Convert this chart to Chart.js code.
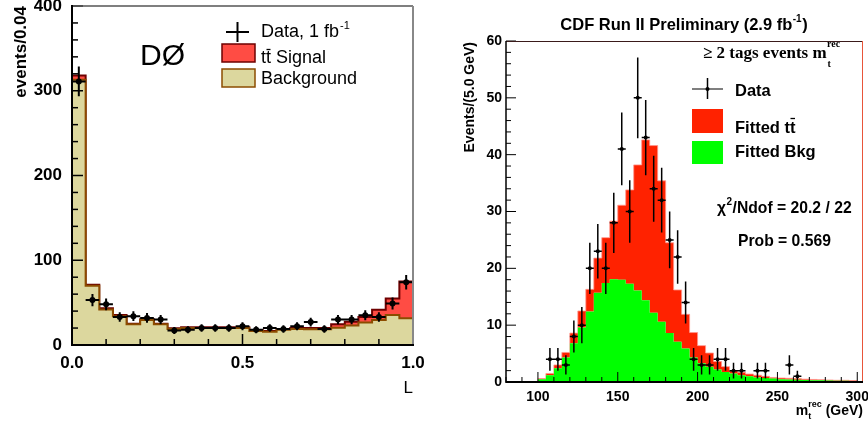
<!DOCTYPE html>
<html>
<head>
<meta charset="utf-8">
<script src="https://cdn.jsdelivr.net/npm/chart.js@4.4.1/dist/chart.umd.min.js"></script>
<style>
  html, body { margin: 0; padding: 0; background: #fff; }
  #wrap { position: relative; width: 868px; height: 421px; overflow: hidden; }
  #dzero { position: absolute; left: 0; top: 0; }
  #cdf { position: absolute; left: 430px; top: 0; }
</style>
</head>
<body>
<div id="wrap">
  <canvas id="dzero" width="430" height="421"></canvas>
  <canvas id="cdf" width="438" height="421"></canvas>
</div>
<script>
"use strict";

// ---- left panel (D0), discriminant L in bins of 0.04 ----
const dzBinLow = 0;
const dzBinWidth = 0.04;
const dzBkg = [313, 70, 42, 34, 24.5, 29.5, 24.5, 19, 20, 20, 20, 20, 20, 16.5, 15.5, 18, 19, 18.5, 18.5, 20.5, 23, 26.5, 29.5, 35.5, 31.5];
const dzTotal = [318, 71, 43.5, 35.5, 25, 30.5, 25, 19.7, 21, 21, 21, 21, 21, 17.4, 16.5, 19, 20, 20, 20, 24.5, 27.5, 33, 41.5, 55, 75];
const dzData = [311, 53, 48, 33, 34, 32, 30, 17, 18, 20, 20, 20, 22, 18, 20, 19, 22, 27, 19, 30, 30, 35, 33, 49, 74];
const dzDataErr = [17.6, 7.3, 6.9, 5.7, 5.8, 5.7, 5.5, 4.1, 4.2, 4.5, 4.5, 4.5, 4.7, 4.2, 4.5, 4.4, 4.7, 5.2, 4.4, 5.5, 5.5, 5.9, 5.7, 7, 8.6];
const dzXTicks = [0, 0.5, 1.0];
const dzYTicks = [0, 100, 200, 300, 400];

// ---- right panel (CDF), reconstructed top mass in 5 GeV bins from 80 ----
const cdfBinLow = 80;
const cdfBinWidth = 5;
const cdfBkg = [0, 0, 0, 0, 0.5, 1.2, 2.4, 4.3, 6.8, 9.6, 12.4, 15.7, 17.4, 18.1, 18.0, 17.3, 16.1, 14.4, 12.2, 10.6, 8.6, 7.1, 5.9, 4.3, 3.3, 2.7, 2.2, 1.75, 1.5, 1.2, 1.0, 0.8, 0.7, 0.6, 0.5, 0.45, 0.4, 0.35, 0.3, 0.3, 0.25, 0.2, 0.2, 0.15];
const cdfTotal = [0, 0, 0, 0, 0.6, 1.5, 3.0, 5.2, 8.6, 12.5, 16.3, 21.8, 25.4, 28.3, 31.1, 33.8, 38.2, 42.6, 41.6, 35.4, 24.5, 16.2, 11.9, 8.7, 6.4, 5.1, 3.6, 2.7, 2.0, 1.7, 1.4, 1.2, 1.0, 0.8, 0.7, 0.65, 0.6, 0.5, 0.45, 0.4, 0.35, 0.3, 0.3, 0.25];
const cdfDataMass = [107.5, 112.5, 117.5, 122.5, 127.5, 132.5, 137.5, 142.5, 147.5, 152.5, 157.5, 162.5, 167.5, 172.5, 177.5, 182.5, 187.5, 192.5, 197.5, 202.5, 207.5, 212.5, 217.5, 222.5, 227.5, 237.5, 242.5, 257.5, 262.5];
const cdfData = [4, 4, 3, 8, 10, 20, 23, 20, 28, 41, 30, 50, 43, 34, 32, 25, 22, 14, 4, 3, 3, 4, 4, 2, 2, 2, 2, 3, 1];
const cdfDataErr = [2, 2, 1.7, 2.8, 3.2, 4.5, 4.8, 4.5, 5.3, 6.4, 5.5, 7.1, 6.6, 5.8, 5.7, 5, 4.7, 3.7, 2, 1.7, 1.7, 2, 2, 1.4, 1.4, 1.4, 1.4, 1.7, 1];
const cdfXTicks = [100, 150, 200, 250, 300];
const cdfYTicks = [0, 10, 20, 30, 40, 50, 60];

const SANS = '"Liberation Sans", Arial, Helvetica, sans-serif';
const SERIF = '"Liberation Serif", "Times New Roman", serif';

function stepPoints(low, width, values) {
  const pts = values.map((v, i) => ({ x: low + i * width, y: v }));
  pts.push({ x: low + values.length * width, y: values[values.length - 1] });
  return pts;
}

function errorBars(centers, values, errs, halfWidth) {
  const vert = [];
  const horiz = [];
  for (let i = 0; i < values.length; i++) {
    const c = centers[i];
    vert.push({ x: c, y: values[i] - errs[i] }, { x: c, y: values[i] + errs[i] }, { x: c, y: null });
    horiz.push({ x: c - halfWidth, y: values[i] }, { x: c + halfWidth, y: values[i] }, { x: c + halfWidth, y: null });
  }
  return { vert, horiz };
}

function line(ctx, x1, y1, x2, y2) {
  ctx.beginPath();
  ctx.moveTo(x1, y1);
  ctx.lineTo(x2, y2);
  ctx.stroke();
}

// draws "tt" with a bar over the second t, returns the end x
function drawTTbar(ctx, x, y, barY) {
  const w = ctx.measureText("t").width;
  ctx.fillText("tt", x, y);
  ctx.save();
  ctx.lineWidth = 1.3;
  line(ctx, x + w + 0.5, barY, x + 2 * w - 0.5, barY);
  ctx.restore();
  return x + 2 * w;
}

function histChart(canvasId, cfg) {
  const bars = errorBars(cfg.centers, cfg.data, cfg.err, cfg.width / 2);
  return new Chart(document.getElementById(canvasId), {
    type: "line",
    data: {
      datasets: [
        {
          data: stepPoints(cfg.low, cfg.width, cfg.bkg),
          stepped: true,
          fill: "origin",
          backgroundColor: cfg.bkgFill,
          borderColor: cfg.bkgLine,
          borderWidth: cfg.histLine,
          pointRadius: 0,
          order: 3,
        },
        {
          data: stepPoints(cfg.low, cfg.width, cfg.total),
          stepped: true,
          fill: "-1",
          backgroundColor: cfg.sigFill,
          borderColor: cfg.sigLine,
          borderWidth: cfg.histLine,
          pointRadius: 0,
          order: 4,
        },
        {
          data: bars.vert,
          borderColor: "#000",
          borderWidth: cfg.errLine,
          pointRadius: 0,
          fill: false,
          spanGaps: false,
          order: 1,
        },
        {
          data: bars.horiz,
          borderColor: "#000",
          borderWidth: cfg.errLine,
          pointRadius: 0,
          fill: false,
          spanGaps: false,
          order: 1,
        },
        {
          type: "scatter",
          data: cfg.centers.map((c, i) => ({ x: c, y: cfg.data[i] })),
          pointRadius: cfg.dot,
          pointBackgroundColor: "#000",
          pointBorderWidth: 0,
          order: 0,
        },
      ],
    },
    options: {
      responsive: false,
      animation: false,
      events: [],
      layout: { padding: cfg.padding },
      elements: { line: { tension: 0 } },
      plugins: { legend: { display: false }, tooltip: { enabled: false } },
      scales: {
        x: {
          type: "linear",
          min: cfg.xMin,
          max: cfg.xMax,
          grid: { display: false, drawTicks: false },
          border: { display: false },
          afterBuildTicks: (s) => { s.ticks = cfg.xTicks.map((v) => ({ value: v })); },
          afterFit: (s) => { s.height = cfg.xAxisHeight; s.paddingLeft = 0; s.paddingRight = 0; },
          ticks: {
            autoSkip: false,
            maxRotation: 0,
            padding: cfg.xPad,
            color: "#000",
            font: { family: SANS, size: cfg.tickSize, weight: "bold" },
            callback: cfg.xFormat,
          },
        },
        y: {
          type: "linear",
          min: cfg.yMin,
          max: cfg.yMax,
          grid: { display: false, drawTicks: false },
          border: { display: false },
          afterBuildTicks: (s) => { s.ticks = cfg.yTicks.map((v) => ({ value: v })); },
          afterFit: (s) => { s.width = cfg.yAxisWidth; s.paddingTop = 0; s.paddingBottom = 0; },
          ticks: {
            autoSkip: false,
            padding: cfg.yPad,
            color: "#000",
            font: { family: SANS, size: cfg.tickSize, weight: "bold" },
            callback: (v) => String(v),
          },
        },
      },
    },
    plugins: [{ id: "decor", afterDraw: cfg.decor }],
  });
}

function drawDzeroDecor(chart) {
  const ctx = chart.ctx;
  const a = chart.chartArea;
  const xs = chart.scales.x;
  const ys = chart.scales.y;
  ctx.save();
  ctx.strokeStyle = "#000";
  ctx.fillStyle = "#000";
  ctx.lineWidth = 1.5;
  for (let v = 0; v <= 400; v += 20) {
    const y = ys.getPixelForValue(v);
    line(ctx, a.left, y, a.left + (v % 100 === 0 ? 11 : 6), y);
  }
  for (let k = 0; k <= 10; k++) {
    const x = xs.getPixelForValue(k / 10);
    line(ctx, x, a.bottom, x, a.bottom - (k % 5 === 0 ? 11 : 6));
  }
  // frame
  ctx.strokeStyle = "#555";
  ctx.lineWidth = 1.5;
  line(ctx, a.left, a.top, a.right, a.top);
  ctx.strokeStyle = "#888";
  ctx.lineWidth = 2;
  line(ctx, a.right, a.top, a.right, a.bottom);
  ctx.strokeStyle = "#000";
  ctx.lineWidth = 2;
  line(ctx, a.left, a.top - 1, a.left, a.bottom + 1);
  line(ctx, a.left - 1, a.bottom, a.right + 1, a.bottom);

  // axis titles
  ctx.save();
  ctx.translate(26, a.top);
  ctx.rotate(-Math.PI / 2);
  ctx.textAlign = "right";
  ctx.textBaseline = "alphabetic";
  ctx.font = "bold 17px " + SANS;
  ctx.fillText("events/0.04", 0, 0);
  ctx.restore();
  ctx.textAlign = "right";
  ctx.font = "17px " + SANS;
  ctx.fillText("L", 413, 393);

  // experiment label
  ctx.textAlign = "left";
  ctx.font = "30px " + SANS;
  ctx.fillText("DØ", 140, 65);

  // legend
  ctx.lineWidth = 2;
  line(ctx, 226, 32, 249, 32);
  line(ctx, 237.5, 22, 237.5, 42);
  ctx.font = "18px " + SANS;
  ctx.fillText("Data, 1 fb", 261, 37);
  let w = ctx.measureText("Data, 1 fb").width;
  ctx.font = "11px " + SANS;
  ctx.fillText("-1", 261 + w + 1, 29);

  ctx.fillStyle = "#ff4c44";
  ctx.fillRect(222, 44, 33, 18);
  ctx.strokeStyle = "#6e0000";
  ctx.lineWidth = 1.5;
  ctx.strokeRect(222, 44, 33, 18);
  ctx.fillStyle = "#dcd79e";
  ctx.fillRect(222, 69, 33, 18);
  ctx.strokeStyle = "#8c4c00";
  ctx.strokeRect(222, 69, 33, 18);

  ctx.fillStyle = "#000";
  ctx.strokeStyle = "#000";
  ctx.font = "18px " + SANS;
  const ex = drawTTbar(ctx, 261, 63, 49.5);
  ctx.fillText(" Signal", ex, 63);
  ctx.fillText("Background", 261, 83.5);
  ctx.restore();
}

function drawCdfDecor(chart) {
  const ctx = chart.ctx;
  const a = chart.chartArea;
  const xs = chart.scales.x;
  const ys = chart.scales.y;
  ctx.save();
  ctx.strokeStyle = "#000";
  ctx.fillStyle = "#000";
  ctx.lineWidth = 1;
  for (let v = 0; v <= 60; v += 2) {
    const y = ys.getPixelForValue(v);
    line(ctx, a.left, y, a.left + (v % 10 === 0 ? 10 : 5), y);
  }
  for (let v = 80; v <= 300; v += 10) {
    const x = xs.getPixelForValue(v);
    line(ctx, x, a.bottom, x, a.bottom - (v % 50 === 0 ? 10 : 5));
  }
  // frame
  ctx.strokeStyle = "#3a1a1a";
  ctx.lineWidth = 1;
  line(ctx, a.left, a.top + 0.5, a.right, a.top + 0.5);
  ctx.strokeStyle = "#e8553a";
  line(ctx, a.right - 0.5, a.top, a.right - 0.5, a.bottom);
  ctx.strokeStyle = "#000";
  ctx.lineWidth = 1.5;
  line(ctx, a.left, a.top, a.left, a.bottom + 1);
  ctx.lineWidth = 2;
  line(ctx, a.left, a.bottom, a.right, a.bottom);

  // title
  ctx.font = "bold 16.5px " + SANS;
  const t1 = "CDF Run II Preliminary (2.9 fb";
  const w1 = ctx.measureText(t1).width;
  ctx.font = "bold 10px " + SANS;
  const w2 = ctx.measureText("-1").width;
  ctx.font = "bold 16.5px " + SANS;
  const w3 = ctx.measureText(")").width;
  let x = 254 - (w1 + w2 + w3 + 1) / 2;
  ctx.textAlign = "left";
  ctx.fillText(t1, x, 30);
  ctx.font = "bold 10px " + SANS;
  ctx.fillText("-1", x + w1 + 0.5, 22);
  ctx.font = "bold 16.5px " + SANS;
  ctx.fillText(")", x + w1 + w2 + 1, 30);

  // y title
  ctx.save();
  ctx.translate(44, a.top + 1);
  ctx.rotate(-Math.PI / 2);
  ctx.textAlign = "right";
  ctx.font = "bold 14px " + SANS;
  ctx.fillText("Events/(5.0 GeV)", 0, 0);
  ctx.restore();

  // x title
  ctx.font = "bold 14px " + SANS;
  const gev = " (GeV)";
  const wg = ctx.measureText(gev).width;
  const wm = ctx.measureText("m").width;
  ctx.font = "bold 9px " + SANS;
  const wr = ctx.measureText("rec").width;
  x = 433 - wg - wr - wm;
  ctx.font = "bold 14px " + SANS;
  ctx.fillText("m", x, 415);
  ctx.fillText(gev, x + wm + wr, 415);
  ctx.font = "bold 9px " + SANS;
  ctx.fillText("rec", x + wm, 407);
  ctx.fillText("t", x + wm, 419);

  // legend
  ctx.strokeStyle = "#555";
  ctx.lineWidth = 1.5;
  line(ctx, 262, 89, 293, 89);
  ctx.strokeStyle = "#000";
  line(ctx, 277.5, 78, 277.5, 99);
  ctx.beginPath();
  ctx.arc(277.5, 89, 2, 0, Math.PI * 2);
  ctx.fill();
  ctx.fillStyle = "#ff2200";
  ctx.fillRect(262, 109, 31, 24);
  ctx.fillStyle = "#00ff00";
  ctx.fillRect(262, 141, 31, 23);
  ctx.fillStyle = "#000";
  ctx.font = "bold 16.5px " + SANS;
  ctx.fillText("Data", 305, 95.5);
  ctx.fillText("Fitted ", 305, 133);
  drawTTbar(ctx, 305 + ctx.measureText("Fitted ").width, 133, 118.5);
  ctx.fillText("Fitted Bkg", 305, 157);

  // selection label
  ctx.font = "bold 17px " + SERIF;
  const sel = "\u2265 2 tags events m";
  ctx.fillText(sel, 273, 58);
  const ws = ctx.measureText(sel).width;
  ctx.font = "bold 10px " + SERIF;
  ctx.fillText("rec", 273 + ws + 0.5, 47);
  ctx.fillText("t", 273 + ws + 1, 67);

  // fit quality
  ctx.font = "bold 15.7px " + SANS;
  ctx.fillText("\u03c7", 287, 213);
  const wc = ctx.measureText("\u03c7").width;
  ctx.font = "bold 10px " + SANS;
  ctx.fillText("2", 287 + wc + 0.5, 205);
  const w22 = ctx.measureText("2").width;
  ctx.font = "bold 15.7px " + SANS;
  ctx.fillText("/Ndof = 20.2 / 22", 287 + wc + w22 + 1, 213);
  ctx.fillText("Prob = 0.569", 308, 246);
  ctx.restore();
}

histChart("dzero", {
  low: dzBinLow,
  width: dzBinWidth,
  bkg: dzBkg,
  total: dzTotal,
  centers: dzData.map((v, i) => dzBinLow + (i + 0.5) * dzBinWidth),
  data: dzData,
  err: dzDataErr,
  bkgFill: "#dcd79e",
  bkgLine: "#8c4c00",
  sigFill: "#ff4c44",
  sigLine: "#6e0000",
  histLine: 2,
  errLine: 2,
  dot: 3,
  xMin: 0,
  xMax: 1,
  yMin: 0,
  yMax: 400,
  xTicks: dzXTicks,
  yTicks: dzYTicks,
  xFormat: (v) => v.toFixed(1),
  tickSize: 17,
  xPad: 8,
  yPad: 10,
  xAxisHeight: 76,
  yAxisWidth: 72,
  padding: { top: 6, right: 17, left: 0, bottom: 0 },
  decor: drawDzeroDecor,
});

histChart("cdf", {
  low: cdfBinLow,
  width: cdfBinWidth,
  bkg: cdfBkg,
  total: cdfTotal,
  centers: cdfDataMass,
  data: cdfData,
  err: cdfDataErr,
  bkgFill: "#00ff00",
  bkgLine: "rgba(0,0,0,0)",
  sigFill: "#ff2200",
  sigLine: "rgba(255,150,140,0.8)",
  histLine: 1,
  errLine: 1.5,
  dot: 2,
  xMin: 80,
  xMax: 303.6,
  yMin: 0,
  yMax: 60,
  xTicks: cdfXTicks,
  yTicks: cdfYTicks,
  xFormat: (v) => String(v),
  tickSize: 14,
  xPad: 7,
  yPad: 4,
  xAxisHeight: 39,
  yAxisWidth: 76,
  padding: { top: 41, right: 5, left: 0, bottom: 0 },
  decor: drawCdfDecor,
});
</script>
</body>
</html>
